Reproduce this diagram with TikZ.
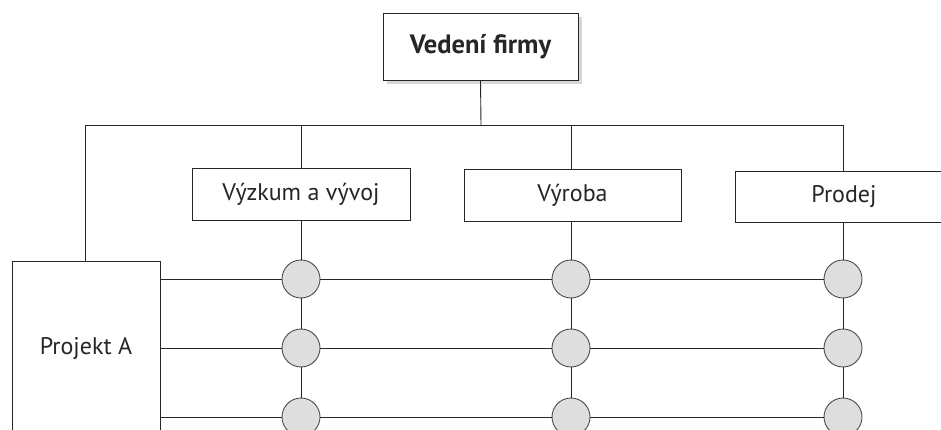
\documentclass[tikz,border=0pt]{standalone}
\usepackage{fontspec}
\setmainfont{PT Sans}
\usetikzlibrary{shadows}
\begin{document}
\begin{tikzpicture}[x=1pt,y=-1pt,
  line/.style={draw=black!85,line width=0.9pt},
  box/.style={draw=black!85,line width=0.9pt,fill=white,rectangle,inner sep=0pt,font=\fontsize{24}{28}\selectfont,text=black!85},
  knot/.style={circle,draw=black!70,line width=0.9pt,fill=black!13,minimum size=38pt,inner sep=0pt}]
\useasboundingbox (0,0) rectangle (941,430);
\clip (0,0) rectangle (941,430);
\fill[white] (0,0) rectangle (941,430);
% boxes
\node[box,minimum width=195pt,minimum height=67pt,font=\fontsize{26.5}{30}\selectfont\bfseries,
  drop shadow={shadow xshift=4pt,shadow yshift=-4pt,fill=black!25,opacity=0.6}] (ved) at (480.5,46.5) {Vedení firmy};
\node[box,minimum width=218pt,minimum height=52pt] (vav) at (301,194) {Výzkum a vývoj};
\node[box,minimum width=217pt,minimum height=52pt] (vyr) at (572.5,195) {Výroba};
\node[box,minimum width=218pt,minimum height=51pt] (pro) at (844,196.5) {Prodej};
\node[box,minimum width=148pt,minimum height=176pt] (pa) at (86,349) {Projekt A};
% tree coordinates
\coordinate (t0) at (481,125);
\coordinate (tl) at (85,125);
\coordinate (t1) at (301,125);
\coordinate (t2) at (571,125);
\coordinate (tr) at (843,125);
\draw[line] (ved.south) -- (t0);
\draw[line] (tl) -- (tr);
\draw[line] (tl) -- (tl |- pa.north);
\draw[line] (t1) -- (t1 |- vav.north);
\draw[line] (t2) -- (t2 |- vyr.north);
\draw[line] (tr) -- (tr |- pro.north);
% knots
\foreach \r/\y in {1/279,2/348,3/417}{
  \node[knot] (k\r a) at (301,\y) {};
  \node[knot] (k\r b) at (571,\y) {};
  \node[knot] (k\r c) at (843,\y) {};
}
\coordinate (bot a) at (301,440);
\coordinate (bot b) at (571,440);
\coordinate (bot c) at (843,440);
\foreach \c/\src in {a/vav,b/vyr,c/pro}{
  \draw[line] (k1\c |- \src.south) -- (k1\c);
  \draw[line] (k1\c) -- (k2\c);
  \draw[line] (k2\c) -- (k3\c);
  \draw[line] (k3\c) -- (bot \c);
}
\foreach \r in {1,2,3}{
  \draw[line] (pa.east |- k\r a) -- (k\r a);
  \draw[line] (k\r a) -- (k\r b);
  \draw[line] (k\r b) -- (k\r c);
}
\end{tikzpicture}
\end{document}
